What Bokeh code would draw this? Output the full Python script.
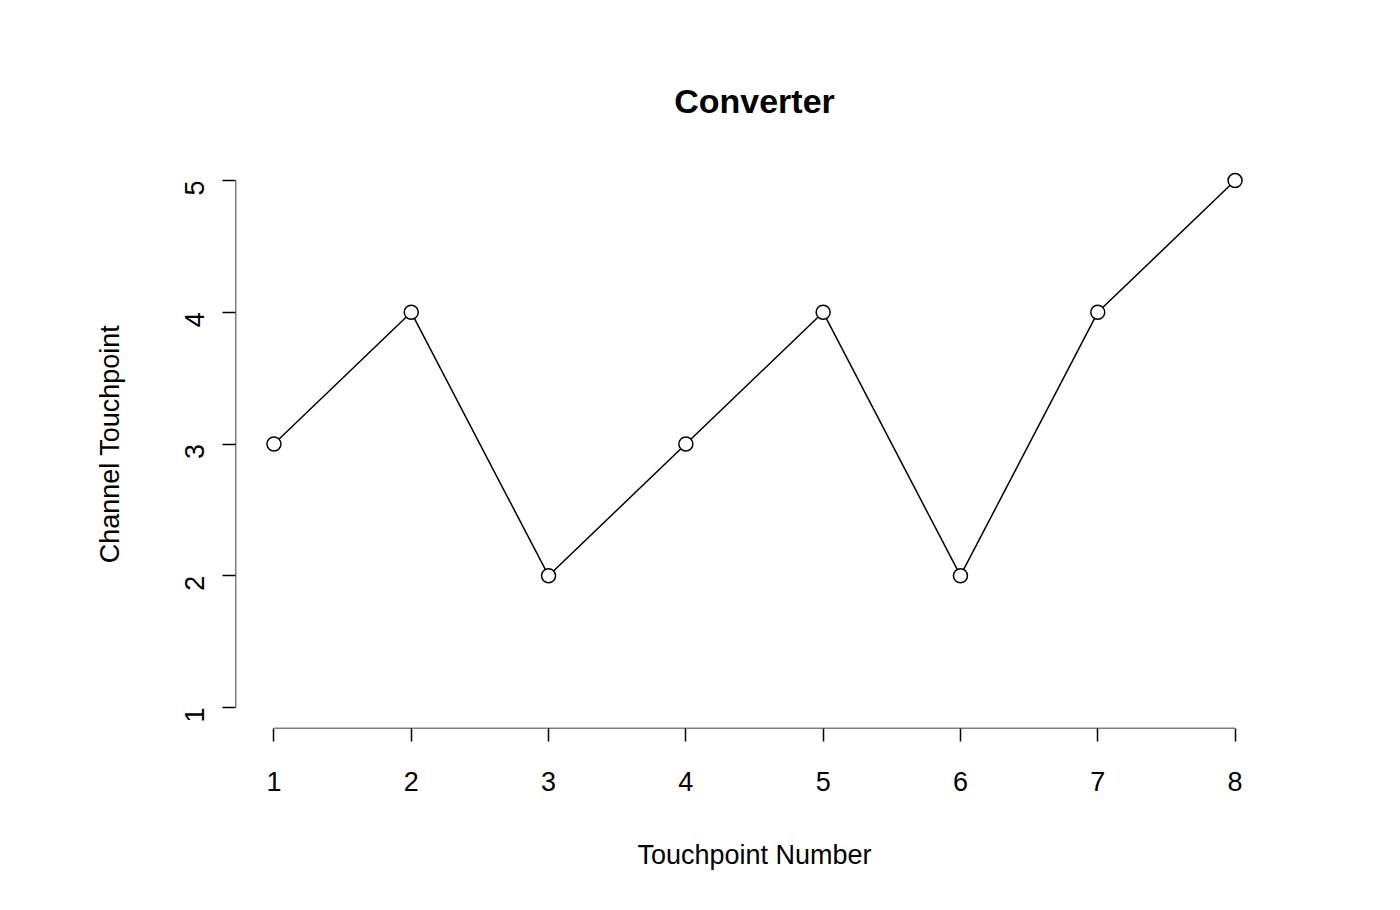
import math
from bokeh.plotting import figure
from bokeh.models import Range1d, FixedTicker
from bokeh.embed import file_html
from bokeh.resources import INLINE

# data
touchpoint = [1, 2, 3, 4, 5, 6, 7, 8]
channel = [3, 4, 2, 3, 4, 2, 4, 5]
x_ticks = [1, 2, 3, 4, 5, 6, 7, 8]
y_ticks = [1, 2, 3, 4, 5]

FONT = "Liberation Sans"

p = figure(width=1384, height=894, output_backend="svg", toolbar_location=None,
           x_range=Range1d(0.72, 8.28), y_range=Range1d(0.84, 5.16),
           min_border_left=235, min_border_top=159,
           min_border_right=111, min_border_bottom=166,
           title="Converter")
p.outline_line_color = None
p.grid.grid_line_color = None
p.background_fill_color = "white"

p.title.align = "center"
p.title.text_font = FONT
p.title.text_font_size = "34px"
p.title.text_font_style = "bold"
p.title.text_color = "black"
p.title.offset = 0
p.title.standoff = 80

for ax, ticks in ((p.xaxis, x_ticks), (p.yaxis, y_ticks)):
    ax.ticker = FixedTicker(ticks=ticks)
    ax.minor_tick_line_color = None
    ax.axis_line_color = None
    ax.major_tick_in = 0
    ax.major_tick_out = 13
    ax.major_tick_line_width = 1.5
    ax.major_tick_line_color = "black"
    ax.major_label_text_font = FONT
    ax.major_label_text_font_size = "27px"
    ax.major_label_text_color = "black"
    ax.axis_label_text_font = FONT
    ax.axis_label_text_font_size = "27px"
    ax.axis_label_text_font_style = "normal"
    ax.axis_label_text_color = "black"

p.xaxis.axis_label = "Touchpoint Number"
p.yaxis.axis_label = "Channel Touchpoint"
p.xaxis.major_label_standoff = 30
p.xaxis.axis_label_standoff = 46
p.yaxis.major_label_orientation = math.pi / 2
p.yaxis.major_label_standoff = 28
p.yaxis.axis_label_standoff = 48

# detached R-style axis lines spanning the tick range
p.segment(x0=[min(x_ticks)], y0=[0.84], x1=[max(x_ticks)], y1=[0.84],
          line_color="black", line_width=1.5)
p.segment(x0=[0.72], y0=[min(y_ticks)], x1=[0.72], y1=[max(y_ticks)],
          line_color="black", line_width=1.5)

p.line(touchpoint, channel, line_color="black", line_width=1.5)
p.scatter(touchpoint, channel, size=14, fill_color="white",
          line_color="black", line_width=1.5)

open("out.html", "w").write(file_html(p, INLINE))
